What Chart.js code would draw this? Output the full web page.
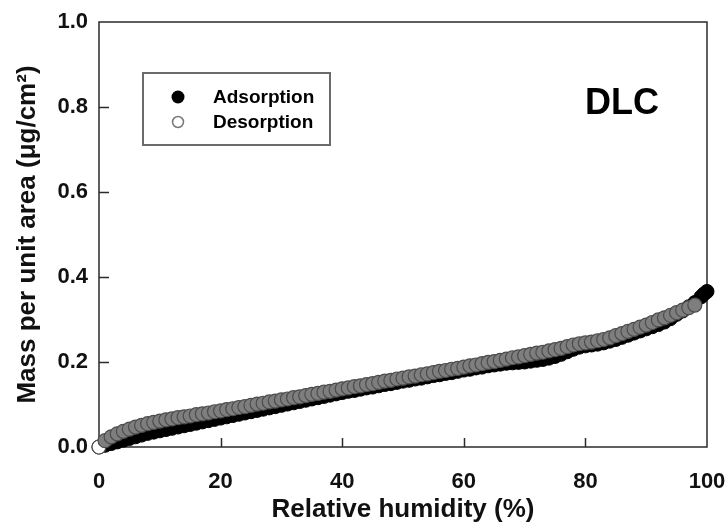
<!DOCTYPE html>
<html>
<head>
<meta charset="utf-8">
<title>DLC sorption isotherm</title>
<script src="https://cdn.jsdelivr.net/npm/chart.js@4"></script>
<style>
  html, body { margin: 0; padding: 0; background: #fff; }
  #wrap { width: 726px; height: 525px; }
</style>
</head>
<body>
<div id="wrap"><canvas id="isotherm" width="726" height="525"></canvas></div>
<script>
// ========================================
// Data: relative humidity (%) vs mass per unit area (ug/cm2)
// ========================================
const rhAdsorption = [
  0, 1, 2, 3, 4, 5, 6, 7, 8, 9, 10, 11, 12, 13, 14, 15, 16, 17, 18, 19,
  20, 21, 22, 23, 24, 25, 26, 27, 28, 29, 30, 31, 32, 33, 34, 35, 36, 37, 38, 39,
  40, 41, 42, 43, 44, 45, 46, 47, 48, 49, 50, 51, 52, 53, 54, 55, 56, 57, 58, 59,
  60, 61, 62, 63, 64, 65, 66, 67, 68, 69, 70, 71, 72, 73, 74, 75, 76, 77, 78, 79,
  80, 81, 82, 83, 84, 85, 86, 87, 88, 89, 90, 91, 92, 93, 94, 95, 96, 97, 98, 99,
  99.5, 100
];
const massAdsorption = [
  0.000, 0.004, 0.008, 0.012, 0.016, 0.020, 0.024, 0.028, 0.032, 0.035,
  0.038, 0.041, 0.044, 0.047, 0.050, 0.053, 0.056, 0.059, 0.062, 0.065,
  0.068, 0.071, 0.074, 0.077, 0.080, 0.083, 0.086, 0.089, 0.092, 0.095,
  0.098, 0.101, 0.104, 0.107, 0.110, 0.113, 0.116, 0.119, 0.122, 0.125,
  0.128, 0.131, 0.133, 0.136, 0.139, 0.141, 0.144, 0.147, 0.149, 0.152,
  0.155, 0.157, 0.160, 0.162, 0.165, 0.168, 0.170, 0.173, 0.175, 0.178,
  0.181, 0.183, 0.186, 0.188, 0.191, 0.193, 0.195, 0.197, 0.198, 0.199,
  0.200, 0.202, 0.204, 0.206, 0.209, 0.213, 0.218, 0.224, 0.230, 0.235,
  0.238, 0.240, 0.242, 0.245, 0.249, 0.253, 0.258, 0.263, 0.268, 0.273,
  0.278, 0.283, 0.288, 0.294, 0.302, 0.312, 0.320, 0.330, 0.340, 0.353,
  0.360, 0.366
];

const rhDesorption = [
  0, 1, 2, 3, 4, 5, 6, 7, 8, 9, 10, 11, 12, 13, 14, 15, 16, 17, 18, 19,
  20, 21, 22, 23, 24, 25, 26, 27, 28, 29, 30, 31, 32, 33, 34, 35, 36, 37, 38, 39,
  40, 41, 42, 43, 44, 45, 46, 47, 48, 49, 50, 51, 52, 53, 54, 55, 56, 57, 58, 59,
  60, 61, 62, 63, 64, 65, 66, 67, 68, 69, 70, 71, 72, 73, 74, 75, 76, 77, 78, 79,
  80, 81, 82, 83, 84, 85, 86, 87, 88, 89, 90, 91, 92, 93, 94, 95, 96, 97, 98
];
const massDesorption = [
  0.000, 0.015, 0.024, 0.031, 0.037, 0.042, 0.047, 0.051, 0.055, 0.058,
  0.061, 0.064, 0.066, 0.069, 0.071, 0.073, 0.076, 0.078, 0.080, 0.083,
  0.085, 0.088, 0.090, 0.093, 0.095, 0.098, 0.101, 0.103, 0.106, 0.108,
  0.111, 0.113, 0.116, 0.118, 0.121, 0.124, 0.126, 0.129, 0.131, 0.134,
  0.137, 0.139, 0.142, 0.144, 0.147, 0.149, 0.152, 0.155, 0.157, 0.160,
  0.162, 0.165, 0.167, 0.170, 0.172, 0.175, 0.178, 0.180, 0.183, 0.185,
  0.188, 0.191, 0.193, 0.196, 0.199, 0.201, 0.204, 0.207, 0.210, 0.212,
  0.215, 0.218, 0.221, 0.223, 0.226, 0.229, 0.232, 0.236, 0.240, 0.243,
  0.245, 0.247, 0.250, 0.253, 0.257, 0.262, 0.267, 0.272, 0.277, 0.282,
  0.287, 0.293, 0.299, 0.304, 0.310, 0.316, 0.322, 0.328, 0.334
];

const xTicks = [0, 20, 40, 60, 80, 100];
const yTicks = [0.0, 0.2, 0.4, 0.6, 0.8, 1.0];

const FONT = "'Liberation Sans', Arial, Helvetica, sans-serif";

function toPoints(xs, ys) {
  return xs.map((x, i) => ({ x: x, y: ys[i] }));
}

// ========================================
// Frame and inward tick marks
// ========================================
const frameTicks = {
  id: 'frameTicks',
  beforeDatasetsDraw(chart) {
    const { ctx, chartArea: a, scales } = chart;
    ctx.save();
    ctx.strokeStyle = '#2b2b2b';
    ctx.lineWidth = 1.5;
    ctx.strokeRect(a.left, a.top, a.right - a.left, a.bottom - a.top);

    ctx.beginPath();
    xTicks.slice(1, -1).forEach(v => {
      const px = Math.round(scales.x.getPixelForValue(v)) + 0.5;
      ctx.moveTo(px, a.bottom);
      ctx.lineTo(px, a.bottom - 9);
    });
    yTicks.slice(1, -1).forEach(v => {
      const py = Math.round(scales.y.getPixelForValue(v)) + 0.5;
      ctx.moveTo(a.left, py);
      ctx.lineTo(a.left + 10, py);
    });
    ctx.stroke();
    ctx.restore();
  }
};

// ========================================
// Boxed legend and sample label
// ========================================
const boxedLegend = {
  id: 'boxedLegend',
  afterDatasetsDraw(chart) {
    const { ctx, chartArea: a } = chart;
    const x0 = a.left + 44;
    const y0 = a.top + 51;
    ctx.save();
    ctx.fillStyle = '#fff';
    ctx.fillRect(x0, y0, 187, 72);
    ctx.strokeStyle = '#6a6a6a';
    ctx.lineWidth = 2;
    ctx.strokeRect(x0, y0, 187, 72);

    // markers
    ctx.beginPath();
    ctx.arc(x0 + 35, y0 + 24, 6.5, 0, Math.PI * 2);
    ctx.fillStyle = '#000';
    ctx.fill();

    ctx.beginPath();
    ctx.arc(x0 + 35, y0 + 49, 5.5, 0, Math.PI * 2);
    ctx.fillStyle = '#fff';
    ctx.fill();
    ctx.strokeStyle = '#777';
    ctx.lineWidth = 1.5;
    ctx.stroke();

    ctx.fillStyle = '#000';
    ctx.font = 'bold 19px ' + FONT;
    ctx.textBaseline = 'middle';
    ctx.textAlign = 'left';
    chart.data.datasets.forEach((ds, i) => {
      ctx.fillText(ds.label, x0 + 70, y0 + 25 + i * 25);
    });

    ctx.font = 'bold 36px ' + FONT;
    ctx.fillText('DLC', a.left + 486, a.top + 82);
    ctx.restore();
  }
};

// ========================================
// Chart
// ========================================
function initializeIsothermChart() {
  const ctx = document.getElementById('isotherm');

  new Chart(ctx, {
    type: 'scatter',
    data: {
      datasets: [{
        label: 'Adsorption',
        data: toPoints(rhAdsorption, massAdsorption),
        pointStyle: 'circle',
        pointRadius: 7,
        pointBackgroundColor: '#000',
        pointBorderColor: '#000',
        pointBorderWidth: 1,
        showLine: false,
        clip: false,
        order: 2
      }, {
        label: 'Desorption',
        data: toPoints(rhDesorption, massDesorption),
        pointStyle: 'circle',
        pointRadius: 7,
        // the lone point at the origin stays open
        pointBackgroundColor: c => (c.dataIndex === 0 ? '#fff' : '#7e7e7e'),
        pointBorderColor: '#4c4c4c',
        pointBorderWidth: 1.2,
        showLine: false,
        clip: false,
        order: 1
      }]
    },
    options: {
      responsive: false,
      devicePixelRatio: 1,
      animation: false,
      events: [],
      layout: {
        padding: { top: 22, right: 19, left: 0, bottom: 0 }
      },
      plugins: {
        legend: { display: false },
        tooltip: { enabled: false }
      },
      scales: {
        x: {
          type: 'linear',
          min: 0,
          max: 100,
          afterFit: scale => {
            scale.height = 78;
            scale.paddingLeft = 0;
            scale.paddingRight = 0;
          },
          afterBuildTicks: scale => { scale.ticks = xTicks.map(v => ({ value: v })); },
          grid: { display: false },
          border: { display: false },
          ticks: {
            color: '#111',
            padding: 14,
            font: { family: FONT, size: 22, weight: 'bold' }
          },
          title: {
            display: true,
            text: 'Relative humidity (%)',
            color: '#111',
            padding: { top: 0, bottom: 0 },
            font: { family: FONT, size: 26, weight: 'bold' }
          }
        },
        y: {
          type: 'linear',
          min: 0,
          max: 1,
          afterFit: scale => {
            scale.width = 99;
            scale.paddingTop = 0;
            scale.paddingBottom = 0;
          },
          afterBuildTicks: scale => { scale.ticks = yTicks.map(v => ({ value: v })); },
          grid: { display: false },
          border: { display: false },
          ticks: {
            color: '#111',
            padding: 3,
            callback: v => Number(v).toFixed(1),
            font: { family: FONT, size: 22, weight: 'bold' }
          },
          title: {
            display: true,
            text: 'Mass per unit area (μg/cm²)',
            color: '#111',
            padding: { top: 12, bottom: 0 },
            font: { family: FONT, size: 26, weight: 'bold' }
          }
        }
      }
    },
    plugins: [frameTicks, boxedLegend]
  });
}

document.addEventListener('DOMContentLoaded', initializeIsothermChart);
</script>
</body>
</html>
